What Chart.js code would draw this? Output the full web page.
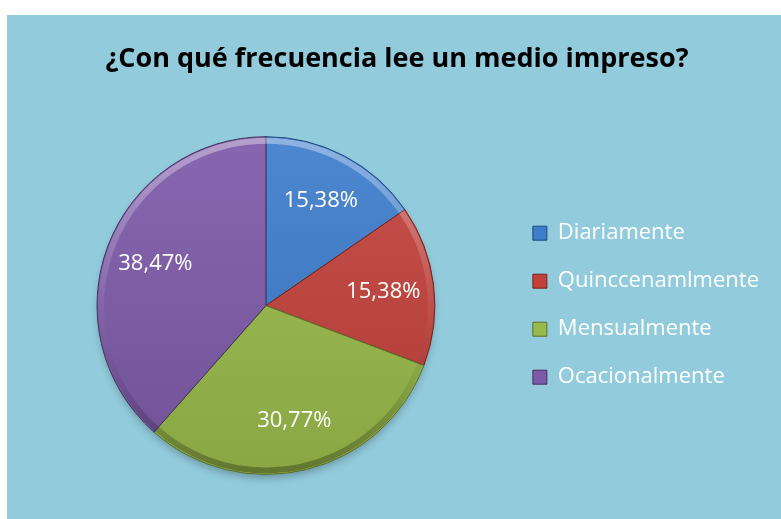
<!DOCTYPE html>
<html>
<head>
<meta charset="utf-8">
<script src="https://cdn.jsdelivr.net/npm/chart.js@4.4.1/dist/chart.umd.min.js"></script>
<style>
  html, body { margin: 0; padding: 0; background: #ffffff; }
  #panel { position: absolute; left: 7px; top: 15px; width: 774px; height: 504px; background: #92cbdc; }
</style>
</head>
<body>
<div id="panel"><canvas id="chartCanvas" width="774" height="504"></canvas></div>
<script>
// chart data
const categories = ["Diariamente", "Quinccenamlmente", "Mensualmente", "Ocacionalmente"];
const shares = [15.38, 15.38, 30.77, 38.47];
const shareLabels = ["15,38%", "15,38%", "30,77%", "38,47%"];
const sliceColors = ["#3d7dcc", "#c2413b", "#98ba4a", "#7d5aa8"];
const edgeColors = ["#22497c", "#74231f", "#5a702c", "#45315e"];

const FONT = "'Open Sans', Lato, sans-serif";

function shade(hex, amt) {
    // amt > 0 lighten, < 0 darken
    const n = parseInt(hex.slice(1), 16);
    let r = n >> 16, g = (n >> 8) & 255, b = n & 255;
    const t = amt > 0 ? 255 : 0, p = Math.abs(amt);
    r = Math.round(r + (t - r) * p);
    g = Math.round(g + (t - g) * p);
    b = Math.round(b + (t - b) * p);
    return "rgb(" + r + "," + g + "," + b + ")";
}

const pieShadow = {
    id: "pieShadow",
    beforeDatasetsDraw: function (chart) {
        const arc = chart.getDatasetMeta(0).data[0];
        if (!arc) return;
        const ctx = chart.ctx;
        ctx.save();
        ctx.shadowColor = "rgba(0,0,0,0.3)";
        ctx.shadowBlur = 9;
        ctx.shadowOffsetY = 5;
        ctx.fillStyle = "#6f8f5a";
        ctx.beginPath();
        ctx.arc(arc.x, arc.y, arc.outerRadius - 2, 0, Math.PI * 2);
        ctx.fill();
        ctx.restore();
    }
};

// light rim on top, dark rim at the bottom, like the office bevel
const bevel = {
    id: "bevel",
    afterDatasetsDraw: function (chart) {
        const ctx = chart.ctx;
        chart.getDatasetMeta(0).data.forEach(function (arc) {
            ctx.save();
            ctx.beginPath();
            ctx.moveTo(arc.x, arc.y);
            ctx.arc(arc.x, arc.y, arc.outerRadius - 1, arc.startAngle, arc.endAngle);
            ctx.closePath();
            ctx.clip();
            const g = ctx.createLinearGradient(0, arc.y - arc.outerRadius, 0, arc.y + arc.outerRadius);
            g.addColorStop(0, "rgba(255,255,255,0.38)");
            g.addColorStop(0.5, "rgba(255,255,255,0.06)");
            g.addColorStop(0.7, "rgba(0,0,0,0.05)");
            g.addColorStop(1, "rgba(0,0,0,0.3)");
            ctx.strokeStyle = g;
            ctx.lineWidth = 6;
            ctx.beginPath();
            ctx.arc(arc.x, arc.y, arc.outerRadius - 4, arc.startAngle, arc.endAngle);
            ctx.stroke();
            ctx.restore();
        });
    }
};

const sliceLabels = {
    id: "sliceLabels",
    afterDatasetsDraw: function (chart) {
        const ctx = chart.ctx;
        ctx.save();
        ctx.fillStyle = "#ffffff";
        ctx.font = "22px " + FONT;
        ctx.textAlign = "center";
        ctx.textBaseline = "middle";
        chart.getDatasetMeta(0).data.forEach(function (arc, i) {
            const mid = (arc.startAngle + arc.endAngle) / 2;
            const r = arc.outerRadius * 0.7;
            ctx.fillText(shareLabels[i], arc.x + Math.cos(mid) * r, arc.y + Math.sin(mid) * r);
        });
        ctx.restore();
    }
};

new Chart(document.getElementById("chartCanvas").getContext("2d"), {
    type: "pie",
    data: {
        labels: categories,
        datasets: [{
            data: shares,
            backgroundColor: function (c) {
                const base = sliceColors[c.dataIndex];
                const area = c.chart.chartArea;
                if (!area) return base;
                const g = c.chart.ctx.createLinearGradient(0, area.top, 0, area.bottom);
                g.addColorStop(0, shade(base, 0.08));
                g.addColorStop(1, shade(base, -0.1));
                return g;
            },
            borderColor: edgeColors,
            borderWidth: 1
        }]
    },
    options: {
        responsive: false,
        animation: false,
        layout: { padding: { left: 18, right: 12, top: 0, bottom: 44 } },
        plugins: {
            title: {
                display: true,
                text: "¿Con qué frecuencia lee un medio impreso?",
                color: "#000000",
                font: { family: FONT, size: 27, weight: "bold" },
                padding: { top: 28, bottom: 60.8 }
            },
            legend: {
                position: "right",
                title: { display: true, text: " ", font: { size: 12 }, padding: { top: 0, bottom: 106 } },
                labels: {
                    color: "#ffffff",
                    font: { family: FONT, size: 22 },
                    boxWidth: 14,
                    boxHeight: 14,
                    padding: 26,
                    generateLabels: function () {
                        return categories.map(function (c, i) {
                            return { text: c, fillStyle: sliceColors[i], strokeStyle: edgeColors[i], lineWidth: 1, fontColor: "#ffffff", index: i };
                        });
                    }
                }
            },
            tooltip: { enabled: false }
        }
    },
    plugins: [pieShadow, bevel, sliceLabels]
});
</script>
</body>
</html>
